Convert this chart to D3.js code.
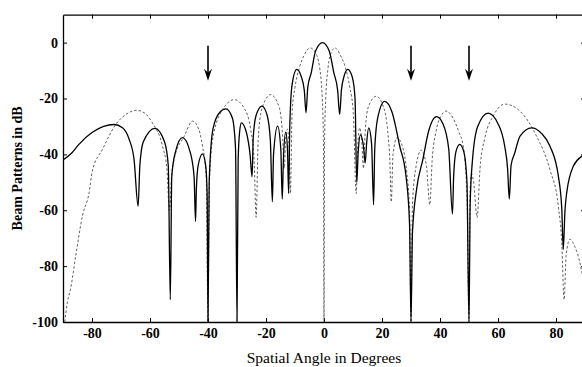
<!DOCTYPE html>
<html>
<head>
<meta charset="utf-8">
<script src="https://cdn.jsdelivr.net/npm/d3@7"></script>
<style>
  body { margin: 0; background: #fff; }
  svg { display: block; }
</style>
</head>
<body>
<svg id="chart"></svg>
<script>
const width = 582, height = 367;

// Axis ticks
const xTicks = [-80, -60, -40, -20, 0, 20, 40, 60, 80];
const yTicks = [0, -20, -40, -60, -80, -100];

// Interference directions (arrows)
const jammerAngles = [-40, 30, 50];

// Solid beam pattern [angle in degrees, level in dB]
const solidPattern = [
    [-90, -42], [-87, -39.5], [-84.5, -36.4], [-80, -32.2], [-76, -30], [-72.4, -29.3], [-69.5, -30.5], [-67.2, -34.6], [-65.5, -41.8], [-64.1, -58.6],
    [-63.5, -44], [-62.3, -35.5], [-58.3, -30.7], [-55, -35.5], [-53.7, -44], [-53, -92],
    [-52.5, -48], [-51.2, -39], [-48.8, -34], [-46.2, -39], [-44.8, -48], [-44.3, -64],
    [-44, -52], [-43.4, -44], [-41.9, -39.8], [-40.8, -44], [-40.3, -54], [-40, -100],
    [-39.6, -50], [-38.3, -31], [-36, -25], [-33.8, -23.7], [-31.6, -27], [-30.5, -38], [-30, -100],
    [-29.6, -42], [-29.1, -32], [-28.5, -28.7], [-26.8, -32], [-25.5, -40], [-24.8, -48],
    [-24.4, -34], [-23.4, -26], [-21.4, -22.7], [-19.6, -26], [-18.5, -35], [-17.8, -57],
    [-17.4, -40], [-16, -29.9], [-14.9, -38], [-14.4, -56],
    [-14, -42], [-13.2, -32], [-12.6, -38], [-12.2, -54],
    [-11.8, -30], [-11, -15], [-9.4, -9.6], [-7.9, -12], [-6.8, -17], [-6.2, -25.1],
    [-5.6, -16], [-4.4, -10.8], [-2.9, -3], [-0.5, 0], [1.8, -3], [3.4, -10.8], [4.7, -17], [5.4, -25.7],
    [6.0, -17], [6.8, -12.5], [8.2, -9.6], [9.8, -12.5], [10.7, -20], [11.3, -50],
    [11.8, -39], [12.6, -33], [13.6, -37], [14.2, -43],
    [14.7, -36], [15.4, -30.5], [16.4, -36], [17.1, -58],
    [17.5, -38], [18.5, -27], [20.9, -21], [23.5, -25], [26.1, -37], [28.3, -48], [29.5, -65], [30, -100],
    [30.5, -68], [32, -52], [34.1, -41.8], [36, -32], [38.8, -26.5], [41, -29], [43, -38], [44.3, -61.4],
    [44.7, -48], [45.5, -39], [46.8, -36.4], [48.2, -39], [49.3, -50], [50, -100],
    [50.4, -58], [51.2, -42], [53, -30], [56.6, -25.2], [60, -29], [62.3, -37], [63.3, -45], [63.9, -56],
    [64.5, -44], [65.8, -39.4], [67.6, -33.5], [71.6, -30.5], [75, -32.5], [77.9, -37], [80.8, -47.7], [82, -59.6], [82.5, -74],
    [83.1, -60], [83.7, -53.7], [86, -44.2], [89, -40.6], [90, -40]
];

// Dashed beam pattern [angle in degrees, level in dB]
const dashedPattern = [
    [-89.4, -100], [-88.5, -93], [-87.4, -88.2], [-85.6, -76.3], [-83.3, -62], [-81, -53.7], [-79.9, -46], [-76.4, -38.2], [-71.8, -29.3], [-68, -25.5], [-64.6, -24.2], [-61.5, -25.5], [-59.2, -28.7], [-55.7, -37], [-54.2, -45], [-53.3, -60],
    [-52.5, -47], [-51.7, -41.8], [-48.2, -33.5], [-45.3, -28.1], [-43.2, -31], [-41.9, -37], [-40.6, -48], [-40, -100],
    [-39.5, -50], [-38.4, -34.6], [-35, -24], [-30.9, -20.4], [-27.5, -23.5], [-25.3, -31], [-24.1, -42], [-23.4, -62.5],
    [-22.7, -35], [-21.5, -24], [-18.4, -18.6], [-15.5, -23], [-14.3, -33], [-13.7, -45],
    [-13.2, -34], [-12.6, -31], [-12, -38], [-11.6, -54],
    [-11, -25], [-10, -16], [-8.5, -9], [-7, -4.8], [-4.8, -1.9], [-3, -3.5], [-1.5, -9], [-0.6, -20], [-0.2, -35], [0, -100],
    [0.2, -35], [0.6, -20], [1.4, -9], [2.5, -3.5], [3.8, -1.9], [5.8, -4.8], [7.4, -9], [8.9, -16], [10.1, -25], [11.1, -54],
    [11.6, -38], [12.3, -30.5], [13, -35], [13.6, -45],
    [14.2, -32], [15.3, -23], [18, -19.2], [20.5, -23], [22, -32], [22.7, -42], [23.2, -57],
    [23.8, -40], [25.2, -34], [27, -37], [28.5, -46], [29.5, -60], [30, -100],
    [30.5, -58], [31.8, -44], [33.5, -38.5], [35.3, -44], [36.5, -58],
    [37.3, -42], [38.6, -32], [40.2, -26.5], [42.2, -24.5], [44.5, -27], [46.5, -32], [48, -37], [49.3, -55], [50, -100],
    [50.4, -52], [50.9, -47], [51.6, -50], [52.8, -62.6],
    [53.8, -45], [55.5, -34], [58.5, -26], [62.4, -22], [67, -24], [73.3, -33.5], [77.9, -45.4], [80.8, -58.5], [82, -72], [82.8, -92],
    [83.5, -76], [84.8, -70.4], [86.5, -73], [88.5, -80], [90, -89]
];

const svg = d3.select("#chart")
    .attr("width", width)
    .attr("height", height)
    .attr("viewBox", [0, 0, width, height]);

svg.append("rect").attr("width", width).attr("height", height).attr("fill", "#fff");

// Scales (the right edge of the frame falls just outside the picture)
const x = d3.scaleLinear().domain([-90, 90]).range([63, 585]);
const y = d3.scaleLinear().domain([-100, 10]).range([322, 14.7]);

svg.append("defs").append("clipPath")
    .attr("id", "plot-clip")
    .append("rect")
    .attr("x", x(-90))
    .attr("y", y(10))
    .attr("width", x(90) - x(-90))
    .attr("height", y(-100) - y(10));

const tickFont = "'Liberation Serif', 'Times New Roman', serif";
const plainNumber = d => String(d); // keep the ASCII hyphen as in the figure

// Axes, ticks pointing inward
const bottomAxis = svg.append("g")
    .attr("transform", `translate(0,${y(-100)})`)
    .call(d3.axisBottom(x).tickValues(xTicks).tickFormat(plainNumber).tickSize(-4).tickSizeOuter(0).tickPadding(6));

const leftAxis = svg.append("g")
    .attr("transform", `translate(${x(-90)},0)`)
    .call(d3.axisLeft(y).tickValues(yTicks).tickFormat(plainNumber).tickSize(-4).tickSizeOuter(0).tickPadding(5));

svg.append("g")
    .attr("transform", `translate(0,${y(10)})`)
    .call(d3.axisTop(x).tickValues(xTicks).tickSize(-4).tickSizeOuter(0).tickFormat(""));

svg.append("g")
    .attr("transform", `translate(${x(90)},0)`)
    .call(d3.axisRight(y).tickValues(yTicks).tickSize(-4).tickSizeOuter(0).tickFormat(""));

svg.selectAll(".domain").attr("stroke", "#000").attr("stroke-width", 1.3);
svg.selectAll(".tick line").attr("stroke", "#000").attr("stroke-width", 1);

[bottomAxis, leftAxis].forEach(a => a.selectAll("text")
    .attr("font-family", tickFont)
    .attr("font-weight", "bold")
    .attr("font-size", 14)
    .attr("fill", "#000"));

// Beam patterns
const line = d3.line()
    .x(d => x(d[0]))
    .y(d => y(d[1]))
    .curve(d3.curveMonotoneX);

const plot = svg.append("g").attr("clip-path", "url(#plot-clip)");

plot.append("path")
    .datum(dashedPattern)
    .attr("fill", "none")
    .attr("stroke", "#444")
    .attr("stroke-width", 0.85)
    .attr("stroke-dasharray", "2.5,2")
    .attr("d", line);

plot.append("path")
    .datum(solidPattern)
    .attr("fill", "none")
    .attr("stroke", "#000")
    .attr("stroke-width", 1.3)
    .attr("d", line);

// Arrows marking the interference directions
const arrows = svg.append("g").selectAll("g")
    .data(jammerAngles)
    .enter()
    .append("g");

arrows.append("line")
    .attr("x1", d => x(d))
    .attr("x2", d => x(d))
    .attr("y1", y(-1.1))
    .attr("y2", y(-11))
    .attr("stroke", "#000")
    .attr("stroke-width", 1.6);

arrows.append("path")
    .attr("transform", d => `translate(${x(d)},${y(-13.6)})`)
    .attr("d", "M0,0 L-4,-12 L0,-8 L4,-12 Z")
    .attr("fill", "#000");

// Axis titles
svg.append("text")
    .attr("x", x(0))
    .attr("y", 363)
    .attr("text-anchor", "middle")
    .attr("font-family", tickFont)
    .attr("font-size", 15.5)
    .attr("fill", "#000")
    .text("Spatial Angle in Degrees");

svg.append("text")
    .attr("transform", `translate(22,${y(-45)}) rotate(-90)`)
    .attr("text-anchor", "middle")
    .attr("font-family", tickFont)
    .attr("font-weight", "bold")
    .attr("font-size", 14)
    .attr("fill", "#000")
    .text("Beam Patterns in dB");
</script>
</body>
</html>
